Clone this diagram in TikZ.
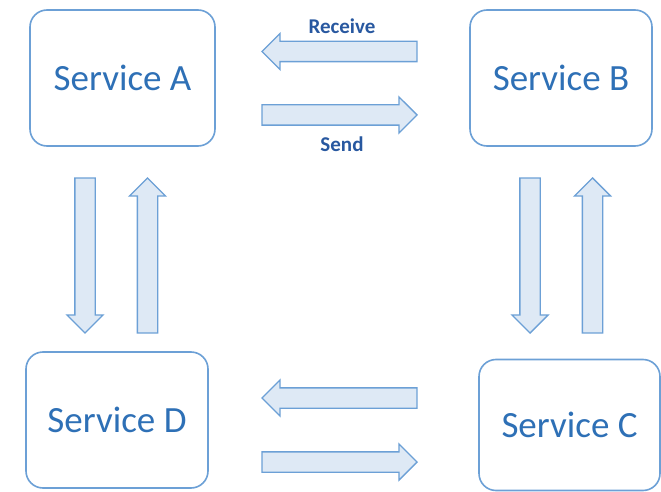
\documentclass[tikz,border=0pt]{standalone}
\usepackage{fontspec}
\setmainfont{Carlito}
\usetikzlibrary{shapes.arrows,positioning}
\usepackage{xcolor}
\definecolor{boxblue}{RGB}{108,160,214}
\definecolor{fillblue}{RGB}{222,233,245}
\definecolor{textblue}{RGB}{46,112,182}
\definecolor{labelblue}{RGB}{40,88,160}

\begin{document}
\begin{tikzpicture}[x=1pt, y=-1pt,
    service/.style={rectangle, rounded corners=17pt, draw=boxblue, line width=1.6pt, fill=white, text=textblue, font=\fontsize{37}{40}\selectfont},
    flow/.style={single arrow, draw=boxblue, line width=1.3pt, fill=fillblue, inner sep=9.5pt, minimum height=155pt, minimum width=36pt, single arrow head extend=8pt, single arrow tip angle=90},
    tag/.style={text=labelblue, font=\fontsize{21}{22}\selectfont\bfseries}
]
\useasboundingbox (0,0) rectangle (661,492);

% Services
\node (svcA) [service, minimum width=185pt, minimum height=136pt] at (122.5,78) {Service A};
\node (svcB) [service, minimum width=182pt, minimum height=136pt] at (561,78) {Service B};
\node (svcD) [service, minimum width=182pt, minimum height=136pt] at (117,420) {Service D};
\node (svcC) [service, minimum width=181pt, minimum height=131pt] at (569.5,425) {Service C};

% Top arrows
\node (recv) [flow, shape border rotate=180] at (344.5,51.5) {};
\node (send) [flow] at (334.5,115) {};
\node [tag] at (342,26) {Receive};
\node [tag] at (342,144) {Send};

% Left arrows
\node (ad) [flow, shape border rotate=270] at (85,250.5) {};
\node (da) [flow, shape border rotate=90] at (147.5,260.5) {};

% Right arrows
\node (bc) [flow, shape border rotate=270] at (530,250.5) {};
\node (cb) [flow, shape border rotate=90] at (592.5,260.5) {};

% Bottom arrows
\node (cd) [flow, shape border rotate=180] at (344.5,398) {};
\node (dc) [flow] at (334.5,462) {};

\end{tikzpicture}
\end{document}
